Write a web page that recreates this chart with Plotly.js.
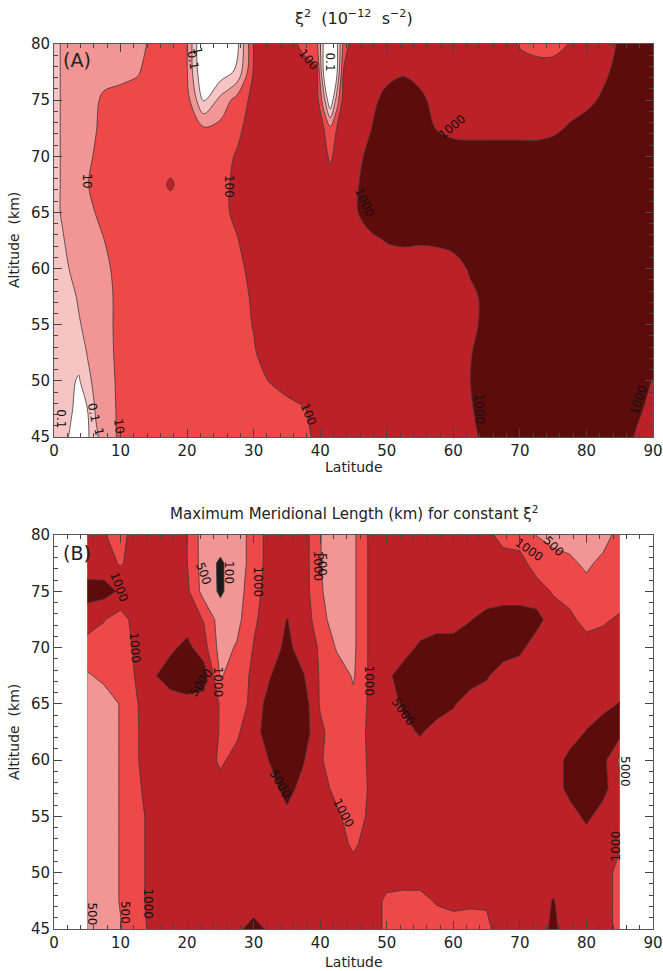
<!DOCTYPE html>
<html><head><meta charset="utf-8">
<script src="https://cdn.plot.ly/plotly-3.0.1.min.js"></script>
<style>html,body{margin:0;padding:0;background:#fff}#chart{width:663px;height:971px}</style>
</head><body><div id="chart"></div>
<script>
// ---------- Panel A: xi^2 (10^-12 s^-2), stored as log10(xi^2) ----------
const latA = [0,1.25,2.5,3.75,5,6.25,7.5,10,12.5,15,17.5,20,22.5,25,27.5,30,32.5,35,37.5,39.5,40.5,41.5,42.5,43.5,45,47.5,50,52.5,55,57.5,60,62.5,65,67.5,70,72.5,75,77.5,80,82.5,85,87.5,90];
const altA = [45,47.5,50,52.5,55,57.5,60,62.5,65,67.5,70,72.5,75,77.5,80];
const log10Xi2 = [
 [-0.5,-0.7,-1.1,-1.5,-1.2,-0.2,0.4, 1.2,1.5,1.5,1.5,1.5,1.5,1.5,1.5,1.5,1.5,1.5,1.8, 2.15,2.5,2.5,2.5,2.5, 2.5,2.5,2.5,2.5,2.5,2.5,2.5,2.9,3.1,3.5,3.5,3.5,3.5,3.5,3.5,3.5,3.5,2.9,2.6],
 [-0.6,-0.7,-0.9,-1.3,-1.02,0.1,0.5, 1.2,1.5,1.5,1.5,1.5,1.5,1.5,1.5,1.5,1.5,1.6,1.95, 2.3,2.5,2.5,2.5,2.5, 2.5,2.5,2.5,2.5,2.5,2.5,2.5,2.9,3.4,3.5,3.5,3.5,3.5,3.5,3.5,3.5,3.5,3.2,2.7],
 [-0.7,-0.75,-0.85,-1.1,-0.3,0.3,0.6, 1.2,1.5,1.5,1.5,1.5,1.5,1.5,1.5,1.7,2.05,2.5,2.5, 2.5,2.5,2.5,2.5,2.5, 2.5,2.5,2.5,2.5,2.5,2.5,2.5,2.98,3.5,3.5,3.5,3.5,3.5,3.5,3.5,3.5,3.5,3.5,2.95],
 [-0.8,-0.8,-0.7,-0.6,0.05,0.4,0.65, 1.25,1.5,1.5,1.5,1.5,1.5,1.5,1.5,1.9,2.5,2.5,2.5, 2.5,2.5,2.5,2.5,2.5, 2.5,2.5,2.5,2.5,2.5,2.5,2.5,2.95,3.3,3.5,3.5,3.5,3.5,3.5,3.5,3.5,3.5,3.5,3.5],
 [-0.8,-0.7,-0.5,-0.1,0.3,0.5,0.7, 1.25,1.5,1.5,1.5,1.5,1.5,1.5,1.6,2.05,2.5,2.5,2.5, 2.5,2.5,2.5,2.5,2.5, 2.5,2.5,2.5,2.5,2.5,2.5,2.5,2.8,3.2,3.5,3.5,3.5,3.5,3.5,3.5,3.5,3.5,3.5,3.5],
 [-0.8,-0.6,-0.3,0.15,0.4,0.5,0.7, 1.25,1.5,1.5,1.5,1.5,1.5,1.5,1.6,2.15,2.5,2.5,2.5, 2.5,2.5,2.5,2.5,2.5, 2.5,2.5,2.5,2.5,2.5,2.5,2.5,2.8,3.2,3.5,3.5,3.5,3.5,3.5,3.5,3.5,3.5,3.5,3.5],
 [-0.8,-0.4,0.1,0.4,0.5,0.6,0.8, 1.3,1.5,1.5,1.5,1.5,1.5,1.5,1.75,2.3,2.5,2.5,2.5, 2.5,2.5,2.5,2.5,2.5, 2.5,2.5,2.5,2.5,2.5,2.5,2.6,3.1,3.5,3.5,3.5,3.5,3.5,3.5,3.5,3.5,3.5,3.5,3.5],
 [-0.5,-0.1,0.3,0.5,0.6,0.7,0.98, 1.5,1.5,1.5,1.5,1.5,1.5,1.6,1.95,2.5,2.5,2.5,2.5, 2.5,2.5,2.5,2.5,2.5, 2.5,2.75,3.05,3.15,3.1,3.15,3.3,3.5,3.5,3.5,3.5,3.5,3.5,3.5,3.5,3.5,3.5,3.5,3.5],
 [-0.3,0.1,0.5,0.6,0.8,1.02,1.3, 1.5,1.5,1.5,1.5,1.5,1.5,1.75,2.2,2.5,2.5,2.5,2.5, 2.5,2.5,2.5,2.5,2.5, 2.8,3.5,3.5,3.5,3.5,3.5,3.5,3.5,3.5,3.5,3.5,3.5,3.5,3.5,3.5,3.5,3.5,3.5,3.5],
 [-0.3,0.1,0.5,0.7,0.95,1.25,1.5, 1.5,1.5,1.5,2.15,1.5,1.5,1.75,2.2,2.5,2.5,2.5,2.5, 2.5,2.5,2.5,2.5,2.5, 2.8,3.4,3.5,3.5,3.5,3.5,3.5,3.5,3.5,3.5,3.5,3.5,3.5,3.5,3.5,3.5,3.5,3.5,3.5],
 [-0.3,0.1,0.5,0.6,0.8,1.1,1.4, 1.5,1.5,1.5,1.5,1.5,1.5,1.6,2.1,2.5,2.5,2.5,2.5, 2.5,2.4,1.8,2.4,2.5, 2.7,3.2,3.5,3.5,3.5,3.5,3.5,3.4,3.4,3.4,3.4,3.4,3.5,3.5,3.5,3.5,3.5,3.5,3.5],
 [-0.3,0.1,0.5,0.5,0.6,0.95,1.3, 1.5,1.5,1.5,1.5,1.5,1.1,1.3,1.75,2.5,2.5,2.5,2.5, 2.5,2.05,1.2,2.05,2.5, 2.6,2.95,3.5,3.5,3.5,2.95,2.7,2.7,2.7,2.7,2.7,2.7,2.8,3.1,3.4,3.5,3.5,3.5,3.5],
 [-0.3,0.1,0.5,0.5,0.6,0.85,1.2, 1.5,1.5,1.5,1.5,1.4,-1.05,0.3,1.4,2.3,2.5,2.5,2.5, 2.4,0.5,-2.0,0.5,2.4, 2.5,2.7,3.3,3.5,3.2,2.7,2.5,2.5,2.5,2.5,2.5,2.5,2.5,2.6,2.75,3.15,3.5,3.5,3.5],
 [-0.3,0.1,0.5,0.5,0.5,0.5,0.6, 0.6,0.9,1.5,1.5,1.05,-2.2,-1.6,-0.8,2.1,2.5,2.5,2.5, 2.2,-1.1,-1.5,-1.2,2.1, 2.5,2.5,2.7,2.9,2.7,2.5,2.5,2.5,2.5,2.5,2.5,2.5,2.5,2.5,2.6,2.8,3.3,3.5,3.5],
 [-0.3,0.1,0.5,0.5,0.5,0.5,0.5, 0.5,0.6,1.3,1.5,1.05,-2.5,-1.8,-1.3,2.05,2.5,2.5,1.7, 1.2,-1.1,-1.5,-1.2,1.3, 2.6,2.5,2.5,2.5,2.5,2.5,2.5,2.5,2.5,2.5,1.9,1.6,1.6,2.05,2.5,2.6,3.1,3.5,3.5]
];

// ---------- Panel B: maximum meridional length (km) ----------
const latB = [5,7.5,10,12.5,15,17.5,20,22.5,25,27.5,30,32.5,35,37.5,40,42.5,45,47.5,50,52.5,55,57.5,60,62.5,65,67.5,70,72.5,75,77.5,80,82.5,85];
const altB = [45,47.5,50,52.5,55,57.5,60,62.5,65,67.5,70,72.5,75,77.5,80];
const maxLengthKm = [
 [250,250,462,758,1621,2200,2200,2200,2200,3624,8700,3624,2200,2200,2200,2200,2200,2236,870,707,707,707,707,707,870,2200,2200,2236,6900,2236,2200,1904,812],
 [250,250,518,841,1621,2200,2200,2200,2200,2200,2236,2200,2200,2200,2200,2200,2200,2236,870,812,812,1175,1621,1380,1175,2200,2200,2236,5420,2236,2200,1904,812],
 [250,250,518,841,1621,2200,2200,2200,2200,2200,2200,2200,2200,2200,2200,2200,2236,2200,2200,2200,2200,2200,2200,2200,2200,2200,2200,2200,2200,2200,2200,1904,812],
 [250,250,518,841,1621,2200,2200,2200,2200,2200,2200,2200,2200,2200,2200,2236,870,2236,2200,2200,2200,2200,2200,2200,2200,2200,2200,2200,2200,2200,2200,2200,1175],
 [250,250,518,841,1621,2200,2200,2200,2200,2200,2200,2200,3624,2200,2200,1380,707,1380,2200,2200,2200,2200,2200,2200,2200,2200,2200,2200,2200,2627,6900,2627,2200],
 [250,250,518,933,1621,2200,2200,2200,1621,2200,2200,3085,8100,3085,1904,812,707,1175,2200,2200,2200,2200,2200,2200,2200,2200,2200,2200,2236,8100,11180,8100,1621],
 [250,250,518,966,2200,2200,2200,2200,900,1621,2200,5420,11180,5420,1175,707,707,1273,2200,2200,2200,2200,2200,2200,2200,2200,2200,2200,2236,8100,11180,8100,870],
 [224,250,518,966,2200,2200,2200,2200,966,900,3085,9520,15000,11180,1380,707,707,1380,2200,3085,5870,2627,2200,2200,2200,2200,2200,2200,2200,2236,5420,11180,9000],
 [224,250,518,980,2200,2200,3085,2236,966,707,1621,11180,15000,11180,933,707,575,1380,2236,6360,11180,11180,5870,2236,2200,2200,2200,2200,2200,2200,2200,3085,5420],
 [426,575,707,1175,4257,11180,13100,13100,426,707,1380,4600,15400,5420,933,707,426,1380,3624,9520,11180,11180,11180,11180,5870,2236,2200,2200,2200,2200,2200,2200,2200],
 [750,750,800,1270,2200,3600,7840,1900,262,536,1084,2200,7480,2200,933,426,362,1380,2200,2627,6500,11180,11180,11180,11180,11180,6900,2500,2200,2200,2627,2200,2200],
 [2200,1080,750,2000,2200,2200,2200,966,224,309,900,2200,5160,3000,616,250,362,1380,2200,2200,2200,2200,2200,4600,8000,11180,11180,8000,2500,1621,707,900,1273],
 [9000,9000,4000,2200,2200,2200,1380,262,70,250,760,2200,2200,2200,536,224,362,1380,2200,2200,2200,2200,2200,2200,2200,2200,2200,2200,930,707,650,650,700],
 [2200,2000,930,2200,2200,2200,1050,224,70,250,635,2200,2200,2200,510,224,362,1380,2200,2200,2200,2200,2200,2200,2200,2200,1900,707,707,575,362,600,700],
 [2200,1100,800,2200,2200,2200,990,224,250,250,635,2200,2200,2200,510,224,362,1380,2200,2200,2200,2200,2200,2200,1600,760,700,490,250,250,250,250,650]
];
const levelsB = [100,500,1000,5000];

// map a length to a contour "level index" (piecewise-log between the levels)
const anchorsB = [10].concat(levelsB, [25000]).map(Math.log10);
function lengthToLevel(v){
  const lv = Math.log10(v);
  for(let i=0;i<anchorsB.length-1;i++){
    if(lv<=anchorsB[i+1] || i===anchorsB.length-2){
      return i + (lv-anchorsB[i])/(anchorsB[i+1]-anchorsB[i]);
    }
  }
}
const zB = maxLengthKm.map(r=>r.map(lengthToLevel));

function stepScale(colors){
  const n = colors.length, out = [];
  colors.forEach((c,i)=>{
    const a = i===0?0:(i-0.5)/(n-1), b = i===n-1?1:(i+0.5)/(n-1);
    out.push([a,c]); out.push([b,c]);
  });
  return out;
}
const colW='#ffffff', colLP='#f7c4c4', colP='#f29595', colR='#ee4849', colD='#bb2127', colM='#5e0b0c';

const traces = [
 {type:'contour', x:latA, y:altA, z:log10Xi2, xaxis:'x', yaxis:'y',
  autocontour:false, contours:{start:-1,end:3,size:1,coloring:'fill',showlines:true},
  line:{color:'#3a3a3a',width:0.8,smoothing:1},
  colorscale:stepScale([colW,colLP,colP,colR,colD,colM]), showscale:false, hoverinfo:'skip'},
 {type:'contour', x:latB, y:altB, z:zB, xaxis:'x2', yaxis:'y2',
  autocontour:false, contours:{start:1,end:4,size:1,coloring:'fill',showlines:true},
  line:{color:'#3a3a3a',width:0.8,smoothing:0},
  colorscale:stepScale(['#1a1a1a',colP,colR,colD,colM]), showscale:false, hoverinfo:'skip'}
];

const FONT = 'DejaVu Sans, Verdana, sans-serif';
function xAx(anchor){
  return {domain:[0,1], anchor:anchor, range:[0,90], dtick:10, tick0:0, ticks:'inside', ticklen:8, tickwidth:1,
    tickcolor:'#444', showline:true, linecolor:'#555', linewidth:1, mirror:'allticks', showgrid:false, zeroline:false,
    minor:{dtick:2, ticks:'inside', ticklen:4, tickcolor:'#444', tickwidth:1},
    tickfont:{size:15, family:FONT, color:'#222'}};
}
function yAx(anchor, dom){
  return {domain:dom, anchor:anchor, range:[45,80], dtick:5, tick0:45, ticks:'inside', ticklen:8, tickwidth:1,
    tickcolor:'#444', showline:true, linecolor:'#555', linewidth:1, mirror:'allticks', showgrid:false, zeroline:false,
    minor:{dtick:1, ticks:'inside', ticklen:4, tickcolor:'#444', tickwidth:1},
    tickfont:{size:15, family:FONT, color:'#222'}};
}

// contour labels
const labelsA = [
 [1.0,46.6,'0.1',90],[5.9,47.2,'0.1',78],[6.7,45.5,'1',78],[9.8,46.0,'10',82],
 [4.9,67.8,'10',90],[26.4,67.3,'100',90],[38.3,47.0,'100',68],[46.6,65.9,'1000',65],
 [63.9,47.5,'1000',88],[87.8,48.3,'1000',-72],[59.8,72.6,'1000',-40],[38.3,78.6,'100',50],
 [20.9,78.6,'0.1',80],[21.6,79.4,'1',80],[41.4,78.4,'0.1',90]
];
const labelsB = [
 [5.7,46.3,'500',90],[10.7,46.5,'500',90],[14.1,47.2,'1000',90],
 [9.8,75.4,'1000',70],[12.2,70.0,'1000',85],[22.4,76.6,'500',70],[26.3,76.7,'100',90],
 [30.6,75.8,'1000',90],[22.2,66.9,'5000',-55],[24.6,66.9,'1000',90],
 [39.8,77.2,'1000',90],[40.3,77.4,'500',90],[47.3,67.0,'1000',90],[52.5,64.3,'5000',55],
 [34.0,57.9,'5000',60],[43.5,55.3,'1000',62],[71.4,78.7,'1000',35],[75.0,79.0,'500',45],
 [85.7,59.0,'5000',90],[84.4,52.4,'1000',-90]
];
const ann = [];
labelsA.forEach(l=>ann.push({xref:'x',yref:'y',x:l[0],y:l[1],text:l[2],textangle:l[3],showarrow:false,xanchor:'center',yanchor:'middle',font:{size:12,family:FONT,color:'#111'}}));
labelsB.forEach(l=>ann.push({xref:'x2',yref:'y2',x:l[0],y:l[1],text:l[2],textangle:l[3],showarrow:false,xanchor:'center',yanchor:'middle',font:{size:12,family:FONT,color:'#111'}}));

const P = y => (929 - y)/885; // pixel row -> paper y
const txt = (x,y,text,size,extra) => Object.assign({xref:'paper',yref:'paper',x:x,y:P(y),text:text,showarrow:false,
  xanchor:'center',yanchor:'middle',font:{size:size,family:FONT,color:'#222'}}, extra||{});
ann.push(
 txt(0.5,17,'ξ<sup>2</sup>  (10<sup>−12</sup>  s<sup>−2</sup>)',16),
 txt(0.5,513,'Maximum Meridional Length (km) for constant ξ<sup>2</sup>',15),
 txt(0.5,467,'Latitude',14),
 txt(0.5,962,'Latitude',14),
 txt((14-54)/599,240,'Altitude  (km)',14,{textangle:-90}),
 txt((14-54)/599,732,'Altitude  (km)',14,{textangle:-90}),
 txt((61-54)/599,60,'(A)',19,{xanchor:'left'}),
 txt((61-54)/599,553,'(B)',19,{xanchor:'left'})
);

const layout = {
  width:663, height:971, margin:{l:54,r:10,t:44,b:42}, paper_bgcolor:'#ffffff', plot_bgcolor:'#ffffff',
  showlegend:false, font:{family:FONT,color:'#222'},
  xaxis:xAx('y'), yaxis:yAx('x',[P(437),1]),
  xaxis2:xAx('y2'), yaxis2:yAx('x2',[0,P(535)]),
  annotations:ann
};
Plotly.newPlot('chart', traces, layout, {displayModeBar:false, staticPlot:true});
</script></body></html>
